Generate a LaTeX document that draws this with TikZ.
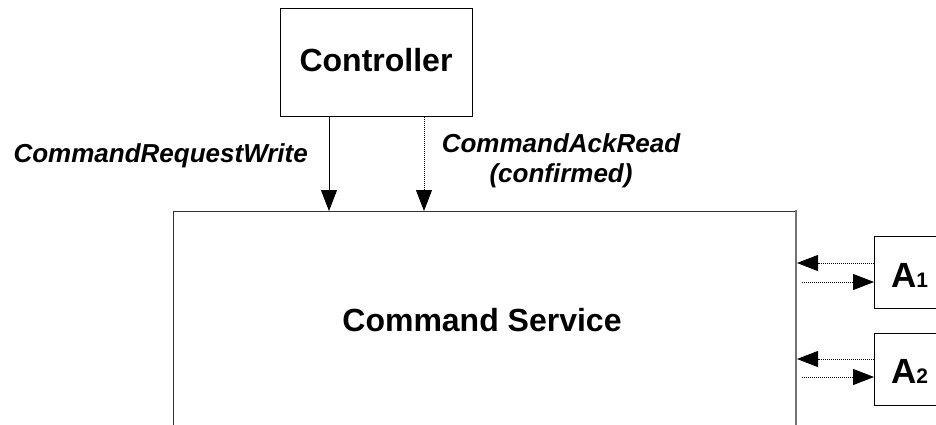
\documentclass[tikz,border=0pt]{standalone}
\usepackage{fontspec}
\setmainfont{Liberation Sans}
\usetikzlibrary{arrows.meta}
\begin{document}
\begin{tikzpicture}[x=1pt,y=-1pt,
  box/.style={draw=black,line width=0.9pt,fill=white},
  flow/.style={line width=0.9pt,-{Triangle[length=21pt,width=16pt]}},
  dotflow/.style={flow,dash pattern=on 1pt off 1pt},
  big/.style={font=\fontsize{32}{38}\selectfont\bfseries,inner sep=0pt},
  lbl/.style={font=\fontsize{26}{30}\selectfont\bfseries\itshape,inner sep=0pt}]
\useasboundingbox (0,0) rectangle (936,425);
\clip (0,0) rectangle (936,425);
% controller box
\node[box,minimum width=192pt,minimum height=108pt,anchor=north west] (ctrl) at (280,8) {};
\node[big] (ctrlt) at (376,60) {Controller};
% command service (continues past the lower edge)
\draw[line width=0.9pt,draw=black!80] (173,430) -- (173,211) -- (796,211);
\draw[line width=1.8pt,draw=black!55] (796,210) -- (796,430);
\coordinate (svcTopA) at (329,211);
\coordinate (svcTopB) at (424,211);
\node[big] (svc) at (482,320) {Command Service};
% actuator boxes
\node[box,minimum width=70pt,minimum height=72pt,anchor=north west] (a1) at (874,236) {};
\node[box,minimum width=70pt,minimum height=72pt,anchor=north west] (a2) at (874,333) {};
\node[font=\fontsize{35}{40}\selectfont\bfseries,inner sep=0pt,anchor=base west] (a1t) at (891,287) {A\fontsize{21}{24}\selectfont 1};
\node[font=\fontsize{35}{40}\selectfont\bfseries,inner sep=0pt,anchor=base west] (a2t) at (891,383) {A\fontsize{21}{24}\selectfont 2};
% controller to service
\draw[flow] (ctrl.south -| svcTopA) -- (svcTopA);
\draw[dotflow] (ctrl.south -| svcTopB) -- (svcTopB);
\node[lbl,anchor=east] (l1) at (308,156) {CommandRequestWrite};
\node[lbl,align=center] (l2) at (561,161) {CommandAckRead\\(confirmed)};
% service <-> actuators
\coordinate (s1) at (797,263); \coordinate (s2) at (802,282);
\coordinate (s3) at (797,359); \coordinate (s4) at (802,377);
\draw[dotflow] (a1.west |- s1) -- (s1);
\draw[dotflow] (s2) -- (a1.west |- s2);
\draw[dotflow] (a2.west |- s3) -- (s3);
\draw[dotflow] (s4) -- (a2.west |- s4);
\end{tikzpicture}
\end{document}
